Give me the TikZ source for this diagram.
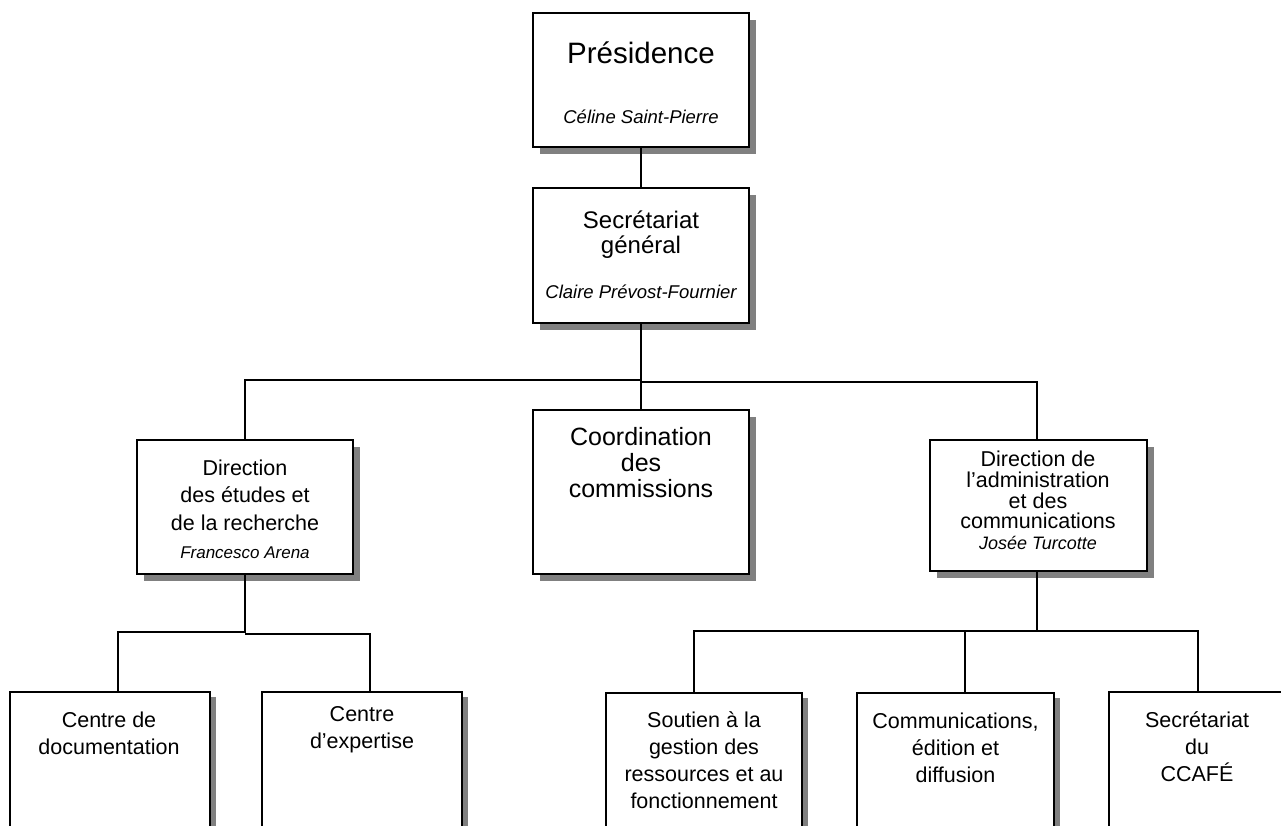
\documentclass[tikz,border=0pt]{standalone}
\usepackage{fontspec}
\setmainfont{Liberation Sans}
\usetikzlibrary{shadows,calc}
\begin{document}
\begin{tikzpicture}[x=1pt,y=-1pt,
  box/.style={draw, fill=white, line width=1.8pt, inner sep=0pt,
    drop shadow={shadow xshift=7pt, shadow yshift=-7pt, fill=black!50, opacity=1}},
  lowbox/.style={draw, fill=white, line width=1.3pt, inner sep=0pt,
    drop shadow={shadow xshift=6pt, shadow yshift=-5pt, fill=black!50, opacity=1}},
  conn/.style={line width=2.2pt},
  lbl/.style={align=center, inner sep=0pt, font=\fontsize{21.5}{27}\selectfont},
  who/.style={inner sep=0pt, font=\fontsize{18}{20}\selectfont\itshape}]
\useasboundingbox (0,0) rectangle (1281,825);
\clip (0,0) rectangle (1281,825);

% boxes
\node[box, minimum width=216pt, minimum height=134pt] (pres) at (641,80) {};
\node[box, minimum width=216pt, minimum height=135pt] (sec) at (641,255.5) {};
\node[box, minimum width=216pt, minimum height=134pt] (dir1) at (245,507) {};
\node[box, minimum width=216pt, minimum height=164pt] (coord) at (641,492) {};
\node[box, minimum width=217pt, minimum height=131pt] (dir2) at (1038.5,505.5) {};
\node[lowbox, minimum width=200pt, minimum height=168pt] (doc) at (110,776) {};
\node[lowbox, minimum width=200pt, minimum height=168pt] (exp) at (362,776) {};
\node[lowbox, minimum width=196pt, minimum height=167pt] (sout) at (704,776.5) {};
\node[lowbox, minimum width=197pt, minimum height=167pt] (comm) at (955.5,776.5) {};
\node[lowbox, minimum width=178pt, minimum height=168pt] (ccafe) at (1198,776) {};

% texts
\node[lbl, font=\fontsize{29.5}{34}\selectfont] (tpres) at (641,53) {Présidence};
\node[who, font=\fontsize{18.5}{20}\selectfont\itshape] (wpres) at (641,117) {Céline Saint-Pierre};
\node[lbl, font=\fontsize{24}{25}\selectfont] (tsec) at (641,235) {Secrétariat\\général};
\node[who, font=\fontsize{18.5}{20}\selectfont\itshape] (wsec) at (641,292) {Claire Prévost-Fournier};
\node[lbl, font=\fontsize{21.5}{27.5}\selectfont] (tdir1) at (245,495) {Direction\\des études et\\de la recherche};
\node[who, font=\fontsize{17}{20}\selectfont\itshape] (wdir1) at (245,553) {Francesco Arena};
\node[lbl, font=\fontsize{25}{26}\selectfont] (tcoord) at (641,463) {Coordination\\des\\commissions};
\node[lbl, font=\fontsize{21.5}{20.7}\selectfont] (tdir2) at (1038,490) {Direction de\\l’administration\\et des\\communications};
\node[who] (wdir2) at (1038,543) {Josée Turcotte};
\node[lbl] (tdoc) at (109,733.5) {Centre de\\documentation};
\node[lbl] (texp) at (362,730) {Centre\\d’expertise};
\node[lbl] (tsout) at (704,760) {Soutien à la\\gestion des\\ressources et au\\fonctionnement};
\node[lbl] (tcomm) at (955.5,747.5) {Communications,\\édition et\\diffusion};
\node[lbl] (tccafe) at (1197,747) {Secrétariat\\du\\CCAFÉ};

% connectors
\coordinate (jl) at (641,380);
\coordinate (jr) at (641,382);
\coordinate (kl) at (245,632);
\coordinate (kr) at (245,634);
\coordinate (m) at (1037,632);
\draw[conn] (pres.south) -- (sec.north);
\draw[conn] (sec.south) -- (coord.north);
\draw[conn] (dir1.north) |- (jl);
\draw[conn] ($(dir2.north)+(-1.5,0)$) |- (jr);
\draw[conn] (dir1.south) -- (kl) -| ($(doc.north)+(8,0)$);
\draw[conn] (kr) -| ($(exp.north)+(8,0)$);
\draw[conn] ($(dir2.south)+(-1.5,0)$) -- (m);
\draw[conn] ($(sout.north)+(-10,0)$) |- ($(ccafe.north)+(0,-60)$) -- (ccafe.north);
\draw[conn] ($(comm.north)+(9.5,0)$) -- ++(0,-61);
\end{tikzpicture}
\end{document}
